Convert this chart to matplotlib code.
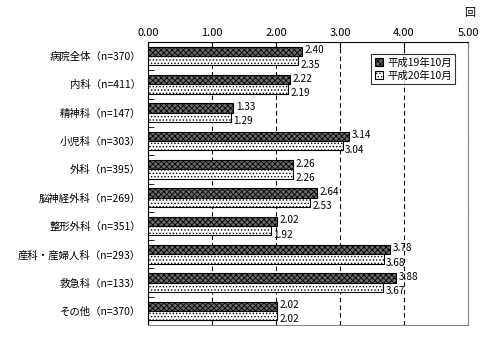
import numpy as np
import matplotlib
matplotlib.use("Agg")
from matplotlib import pyplot as plt

plt.rcParams['font.family'] = ['Noto Sans CJK JP', 'DejaVu Sans']
plt.rcParams['hatch.linewidth'] = 0.6

categories = ["病院全体（n=370）", "内科（n=411）", "精神科（n=147）", "小児科（n=303）",
              "外科（n=395）", "脳神経外科（n=269）", "整形外科（n=351）",
              "産科・産婦人科（n=293）", "救急科（n=133）", "その他（n=370）"]
h19 = [2.40, 2.22, 1.33, 3.14, 2.26, 2.64, 2.02, 3.78, 3.88, 2.02]
h20 = [2.35, 2.19, 1.29, 3.04, 2.26, 2.53, 1.92, 3.68, 3.67, 2.02]
ticks = [0, 1, 2, 3, 4, 5]

fig = plt.figure(figsize=(4.99, 3.41), dpi=100)
ax = fig.add_axes([148 / 499, 16 / 341, 320 / 499, 283 / 341])

y = np.arange(len(categories))
bh = 0.33
ax.barh(y - bh / 2, h19, height=bh, color='#6a6a6a', edgecolor='black',
        hatch='xxxxxx', linewidth=0.8, label='平成19年10月')
ax.barh(y + bh / 2, h20, height=bh, color='white', edgecolor='black',
        hatch='.....', linewidth=0.8, label='平成20年10月')

for i in range(len(categories)):
    ax.text(h19[i] + 0.04, y[i] - bh / 2 - 0.04, f"{h19[i]:.2f}", fontsize=7.2,
            va='center', ha='left')
    ax.text(h20[i] + 0.04, y[i] + bh / 2 + 0.14, f"{h20[i]:.2f}", fontsize=7.2,
            va='center', ha='left')

ax.set_xlim(0, 5)
ax.set_ylim(len(categories) - 0.5, -0.5)
ax.set_xticks(ticks)
ax.set_xticklabels([f"{t:.2f}" for t in ticks], fontsize=8)
ax.xaxis.tick_top()
ax.tick_params(axis='x', direction='in', length=4, pad=3)
ax.set_yticks(y)
ax.set_yticklabels(categories, fontsize=7.5)
ax.set_yticks(np.arange(len(categories) + 1) - 0.5, minor=True)
ax.tick_params(axis='y', which='major', length=0, pad=5)
ax.tick_params(axis='y', which='minor', direction='in', length=4)
ax.grid(axis='x', linestyle=(0, (4, 3)), color='black', linewidth=0.8)
ax.set_axisbelow(True)
for s in ax.spines.values():
    s.set_linewidth(0.8)
ax.spines['bottom'].set_color('#888888')
ax.spines['right'].set_color('#888888')

leg = ax.legend(loc='upper right', bbox_to_anchor=(0.975, 0.975), fontsize=7.5,
                frameon=True, fancybox=False, edgecolor='black',
                handlelength=0.8, handleheight=0.8, handletextpad=0.4,
                borderpad=0.3, labelspacing=0.3)
leg.get_frame().set_linewidth(0.8)

fig.text(470 / 499, 1 - 13 / 341, "回", fontsize=8, ha='center', va='center')

fig.savefig("out.png", dpi=100)
